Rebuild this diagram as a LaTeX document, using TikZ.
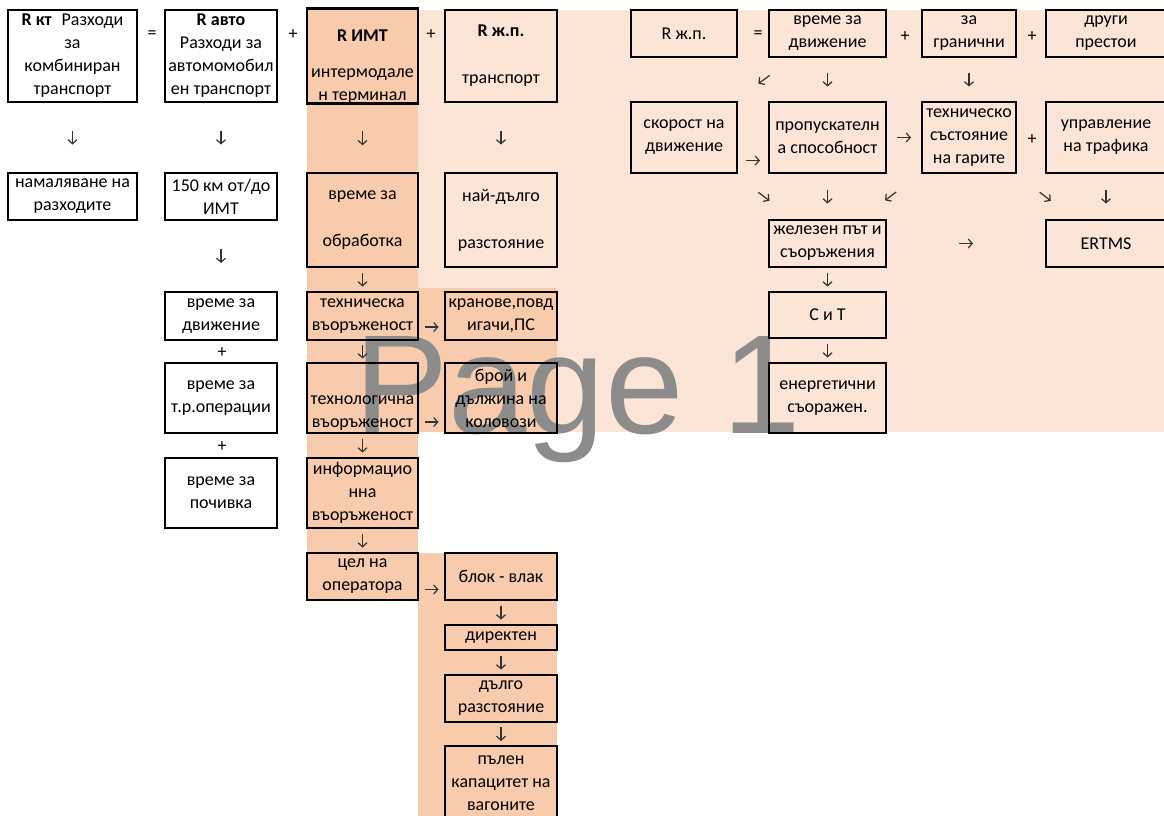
\documentclass[tikz,border=0pt]{standalone}
\usepackage{fontspec}
\setmainfont{Carlito}
\newfontfamily\wmfont{Liberation Sans}
\usetikzlibrary{arrows.meta,calc}
\definecolor{lightpeach}{HTML}{FCE4D6}
\definecolor{darkpeach}{HTML}{F8CBAD}
\definecolor{wmgray}{HTML}{8C8C8C}
\definecolor{glyphgray}{HTML}{333333}
\tikzset{
  box/.style={draw, line width=2.7pt, align=center, inner sep=0pt},
  sign/.style={inner sep=0pt},
  arr/.style={draw=glyphgray, line width=1.2pt, -{Straight Barb[length=4pt,width=9pt]}}
}
% short arrow in the middle of the gap between two boxes
\newcommand\glyarrow[3][0]{%
  \path (#2) -- coordinate[pos=.5] (gm) (#3);
  \draw[arr] ($(gm)!7pt!(#2)+(0,#1)$) -- ($(gm)!7pt!(#3)+(0,#1)$);}
\begin{document}
\begin{tikzpicture}[x=1pt, y=-1pt, font=\fontsize{18}{23}\selectfont]
    \useasboundingbox (0,0) rectangle (1164,816);
    % shaded cells
    \fill[lightpeach] (418,10) rectangle (1164,432);
    \fill[darkpeach] (307,10) rectangle (418,600);
    \fill[darkpeach] (418,288) rectangle (557,432);
    \fill[darkpeach] (418,553) rectangle (557,816);
    % watermark
    \node[text=wmgray, font={\wmfont\fontsize{141}{141}\selectfont}, anchor=base west, inner sep=0pt] (wm) at (354,433) {Page 1};

    % R kt
    \node[box, minimum width=129pt, minimum height=92pt] (kt) at (72.5,56) {\textbf{R кт}\hspace{10pt}Разходи\\за\\комбиниран\\транспорт};
    \node[box, minimum width=129pt, minimum height=47pt] (nam) at (72.5,196.5) {намаляване на\\разходите};
    % R avto
    \node[box, minimum width=112pt, minimum height=92pt] (avto) at (221,56) {\textbf{R авто}\\Разходи за\\автомомобил\\ен транспорт};
    \node[box, minimum width=112pt, minimum height=47pt] (km) at (221,196.5) {150 км от/до\\ИМТ};
    \node[box, minimum width=112pt, minimum height=48pt] (dv) at (221,316) {време за\\движение};
    \node[box, minimum width=112pt, minimum height=70pt] (trop) at (221,398) {време за\\т.р.операции};
    \node[box, minimum width=112pt, minimum height=70pt] (poch) at (221,493) {време за\\почивка};
    % R IMT
    \node[box, minimum width=111pt, minimum height=92pt] (imt) at (362.5,56) {\mbox{}\\[10pt]\textbf{R ИМТ}\\[13pt]интермодале\\н терминал};
    \node[box, minimum width=111pt, minimum height=94pt] (obr) at (362.5,220) {време за\\[24pt]обработка};
    \node[box, minimum width=111pt, minimum height=48pt] (tehn) at (362.5,316) {техническа\\въоръженост};
    \node[box, minimum width=111pt, minimum height=70pt] (tehl) at (362.5,398) {\strut\\технологична\\въоръженост};
    \node[box, minimum width=111pt, minimum height=70pt] (info) at (362.5,493) {информацио\\нна\\въоръженост};
    \node[box, minimum width=111pt, minimum height=47pt] (cel) at (362.5,576.5) {цел на\\оператора};
    % R zp
    \node[box, minimum width=112pt, minimum height=92pt] (zp) at (501,56) {\textbf{R ж.п.}\\[24pt]транспорт};
    \node[box, minimum width=112pt, minimum height=94pt] (naj) at (501,220) {най-дълго\\[24pt]разстояние};
    \node[box, minimum width=112pt, minimum height=48pt] (kran) at (501,316) {кранове,повд\\игачи,ПС};
    \node[box, minimum width=112pt, minimum height=70pt] (broj) at (501,398) {брой и\\дължина на\\коловози};
    \node[box, minimum width=112pt, minimum height=47pt] (blok) at (501,576.5) {блок - влак};
    \node[box, minimum width=112pt, minimum height=25pt] (dir) at (501,637.5) {директен};
    \node[box, minimum width=112pt, minimum height=47pt] (dalgo) at (501,698.5) {дълго\\разстояние};
    \node[box, minimum width=112pt, minimum height=74pt] (palen) at (501,783) {пълен\\капацитет на\\вагоните};
    % R zp = ...
    \node[box, minimum width=106pt, minimum height=47pt] (zp2) at (684,33.5) {R ж.п.};
    \node[box, minimum width=117pt, minimum height=47pt] (vreme) at (827.5,33.5) {време за\\движение};
    \node[box, minimum width=94pt, minimum height=47pt] (gran) at (969,33.5) {за\\гранични};
    \node[box, minimum width=120pt, minimum height=47pt] (drugi) at (1106,33.5) {други\\престои};
    \node[box, minimum width=106pt, minimum height=71pt] (skor) at (684,137.5) {скорост на\\движение};
    \node[box, minimum width=117pt, minimum height=71pt] (prop) at (827.5,137.5) {пропускателн\\а способност};
    \node[box, minimum width=94pt, minimum height=71pt] (tso) at (969,137.5) {техническо\\състояние\\на гарите};
    \node[box, minimum width=120pt, minimum height=71pt] (upr) at (1106,137.5) {управление\\на трафика};
    \node[box, minimum width=117pt, minimum height=47pt] (jel) at (827.5,243.5) {железен път и\\съоръжения};
    \node[box, minimum width=120pt, minimum height=47pt] (ertms) at (1106,243.5) {ERTMS};
    \node[box, minimum width=117pt, minimum height=46pt] (sit) at (827.5,315) {С и Т};
    \node[box, minimum width=117pt, minimum height=70pt] (energ) at (827.5,398) {енергетични\\съоражен.};

    % signs
    \node[sign] (eq1) at (152,35) {=};
    \node[sign] (pl1) at (293,35) {+};
    \node[sign] (pl2) at (431,35) {+};
    \node[sign] (eq2) at (758,35) {=};
    \node[sign] (pl3) at (905,37) {+};
    \node[sign] (pl4) at (1032,37) {+};
    \node[sign] (pl5) at (1032,140) {+};
    \node[sign] (pl6) at (222,353) {+};
    \node[sign] (pl7) at (222,447) {+};

    % arrows
    \glyarrow{kt}{nam}
    \glyarrow{avto}{km}
    \glyarrow{km}{dv}
    \glyarrow{imt}{obr}
    \glyarrow{obr}{tehn}
    \glyarrow{tehn}{tehl}
    \glyarrow{tehl}{info}
    \glyarrow{info}{cel}
    \glyarrow{zp}{naj}
    \glyarrow[11]{tehn}{kran}
    \glyarrow[24]{tehl}{broj}
    \glyarrow[13]{cel}{blok}
    \glyarrow{blok}{dir}
    \glyarrow{dir}{dalgo}
    \glyarrow{dalgo}{palen}
    \glyarrow{vreme}{skor}
    \glyarrow{vreme}{prop}
    \glyarrow{gran}{tso}
    \glyarrow[23]{skor}{prop}
    \glyarrow{prop}{tso}
    \glyarrow{skor}{jel}
    \glyarrow{prop}{jel}
    \glyarrow{tso}{jel}
    \glyarrow{tso}{ertms}
    \glyarrow{upr}{ertms}
    \glyarrow{jel}{ertms}
    \glyarrow{jel}{sit}
    \glyarrow{sit}{energ}
\end{tikzpicture}
\end{document}
